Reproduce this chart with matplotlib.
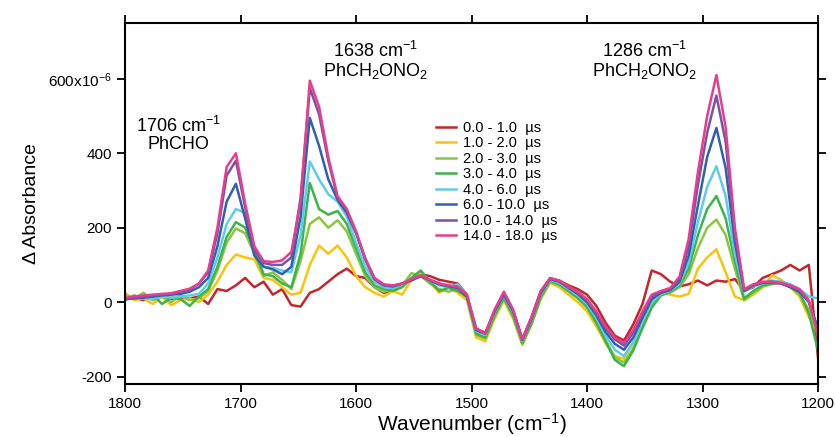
import numpy as np
import matplotlib
matplotlib.use("Agg")
import matplotlib.pyplot as plt
from matplotlib.ticker import FixedLocator, FuncFormatter

plt.rcParams['font.family'] = ['Liberation Sans', 'DejaVu Sans']
plt.rcParams['mathtext.default'] = 'regular'

# wavenumber grid (cm-1), 8 cm-1 steps from 1800 down to 1200
wavenumber = np.arange(1800, 1199, -8)

# delta absorbance in units of 1e-6
a_0_1 = [8, 12, 5, 15, 22, 8, 12, 10, 15, -5, 35, 30, 45, 65, 40, 55, 20, 35, -8, -12,
         25, 35, 55, 75, 90, 70, 65, 40, 25, 30, 45, 62, 75, 70, 60, 55, 50, 20, -80, -85,
         -25, 25, -25, -100, -40, 30, 62, 58, 45, 35, 20, -10, -55, -90, -103, -60, -5, 85, 75, 55,
         42, 48, 58, 45, 58, 55, 62, 30, 40, 65, 75, 85, 100, 85, 100, -150]
a_1_2 = [25, 5, 10, -5, 15, -8, 5, 10, 0, 20, 55, 100, 128, 120, 115, 65, 60, 40, 20, 25,
         100, 152, 130, 152, 120, 70, 40, 25, 15, 30, 20, 60, 80, 55, 25, 40, 25, 5, -95, -105,
         -45, 5, -45, -115, -60, 8, 52, 40, 20, 0, -25, -65, -110, -145, -152, -110, -50, 5, 25, 20,
         15, 22, 90, 120, 142, 80, 15, 5, 20, 40, 72, 60, 40, 15, -40, -80]
a_2_3 = [20, 10, 25, 5, 15, 0, 18, 5, 10, 30, 85, 160, 198, 185, 130, 70, 80, 60, 35, 110,
         210, 228, 200, 220, 190, 130, 70, 40, 28, 35, 45, 78, 70, 50, 35, 28, 35, 12, -88, -98,
         -38, 10, -38, -112, -58, 12, 55, 45, 28, 10, -15, -55, -102, -148, -162, -125, -65, -10, 20, 25,
         40, 75, 145, 200, 222, 180, 90, 5, 25, 42, 48, 55, 40, 20, -20, -90]
a_3_4 = [5, 18, 8, 20, -5, 12, 8, -10, 15, 35, 95, 175, 215, 200, 140, 75, 70, 50, 40, 130,
         320, 250, 235, 245, 210, 145, 80, 45, 35, 30, 40, 65, 85, 55, 30, 38, 30, 15, -85, -95,
         -35, 12, -35, -110, -55, 15, 58, 48, 30, 12, -12, -55, -105, -155, -172, -130, -70, -15, 18, 28,
         45, 90, 180, 250, 285, 225, 110, 10, 30, 45, 50, 52, 42, 25, -30, -130]
a_4_6 = [15, 12, 10, 8, 15, 12, 15, 18, 22, 50, 120, 210, 250, 240, 150, 95, 92, 85, 80, 180,
         378, 330, 290, 270, 230, 160, 95, 55, 40, 38, 48, 60, 72, 58, 45, 40, 48, 18, -78, -88,
         -28, 18, -28, -105, -48, 22, 60, 52, 35, 18, -5, -42, -90, -128, -145, -108, -52, 0, 22, 30,
         50, 105, 215, 310, 365, 285, 130, 28, 42, 50, 58, 55, 48, 35, 15, 10]
a_6_10 = [8, 10, 12, 15, 18, 20, 22, 28, 40, 65, 150, 270, 318, 225, 125, 95, 88, 75, 95, 230,
          495, 420, 330, 275, 240, 185, 115, 62, 45, 42, 50, 58, 70, 58, 48, 42, 38, 15, -75, -85,
          -25, 20, -25, -102, -45, 25, 62, 55, 38, 22, 0, -35, -80, -112, -128, -95, -42, 8, 25, 32,
          55, 125, 260, 390, 468, 360, 160, 30, 45, 52, 55, 50, 40, 28, 0, -70]
a_10_14 = [10, 12, 15, 18, 20, 22, 28, 34, 50, 80, 185, 340, 380, 255, 140, 105, 100, 100, 120, 280,
           575, 505, 380, 280, 248, 188, 115, 62, 46, 44, 50, 60, 70, 60, 50, 44, 40, 18, -72, -82,
           -22, 25, -22, -100, -42, 28, 64, 56, 40, 25, 5, -28, -70, -100, -117, -82, -32, 15, 28, 35,
           62, 150, 315, 455, 555, 430, 185, 32, 45, 52, 52, 50, 42, 32, 2, -80]
a_14_18 = [12, 15, 18, 20, 22, 24, 30, 36, 50, 85, 200, 363, 400, 265, 150, 110, 108, 112, 135, 270,
           595, 525, 390, 285, 250, 190, 118, 65, 48, 45, 50, 62, 72, 60, 50, 45, 42, 20, -70, -85,
           -20, 28, -20, -100, -40, 30, 65, 58, 42, 28, 8, -25, -65, -95, -110, -75, -25, 20, 30, 38,
           68, 170, 350, 500, 610, 470, 200, 35, 48, 55, 55, 52, 45, 35, 5, -90]

series = [a_0_1, a_1_2, a_2_3, a_3_4, a_4_6, a_6_10, a_10_14, a_14_18]
labels = ["0.0 - 1.0  \u00b5s", "1.0 - 2.0  \u00b5s", "2.0 - 3.0  \u00b5s", "3.0 - 4.0  \u00b5s",
          "4.0 - 6.0  \u00b5s", "6.0 - 10.0  \u00b5s", "10.0 - 14.0  \u00b5s", "14.0 - 18.0  \u00b5s"]
colors = ['#c1272d', '#fcc30d', '#8cc63f', '#3bb54a', '#5fcbec', '#3160ad', '#7b52a3', '#e83d8d']

fig = plt.figure(figsize=(8.35, 4.37), dpi=100)
ax = fig.add_axes([0.1497, 0.1213, 0.830, 0.826])

for y, c, lab in zip(series, colors, labels):
    ax.plot(wavenumber, y, color=c, lw=1.8, label=lab)

ax.set_xlim(1800, 1200)
ax.set_ylim(-220, 750)

ax.xaxis.set_major_locator(FixedLocator([1800, 1700, 1600, 1500, 1400, 1300, 1200]))
ax.yaxis.set_major_locator(FixedLocator([-200, 0, 200, 400, 600]))
ax.yaxis.set_major_formatter(FuncFormatter(
    lambda v, p: "600x10$^{-6}$" if v == 600 else f"{int(v)}"))
ax.tick_params(direction='out', length=6, width=1.3, labelsize=11,
               top=True, right=True, labeltop=False, labelright=False)
for s in ax.spines.values():
    s.set_linewidth(1.5)

ax.set_xlabel("Wavenumber (cm$^{-1}$)", fontsize=15, labelpad=0)
ax.set_ylabel("\u0394 Absorbance", fontsize=14, labelpad=6)

ax.text(1754, 451, "1706 cm$^{-1}$\nPhCHO", ha='center', va='center', fontsize=13, linespacing=1.0)
ax.text(1583, 647, "1638 cm$^{-1}$\nPhCH$_2$ONO$_2$", ha='center', va='center', fontsize=13, linespacing=1.0)
ax.text(1350, 647, "1286 cm$^{-1}$\nPhCH$_2$ONO$_2$", ha='center', va='center', fontsize=13, linespacing=1.0)

ax.legend(loc='upper left', bbox_to_anchor=(0.44, 0.745), frameon=False, fontsize=10.5,
          handlelength=1.4, handletextpad=0.5, labelspacing=0.1, borderaxespad=0)

fig.savefig("out.png", dpi=100)
